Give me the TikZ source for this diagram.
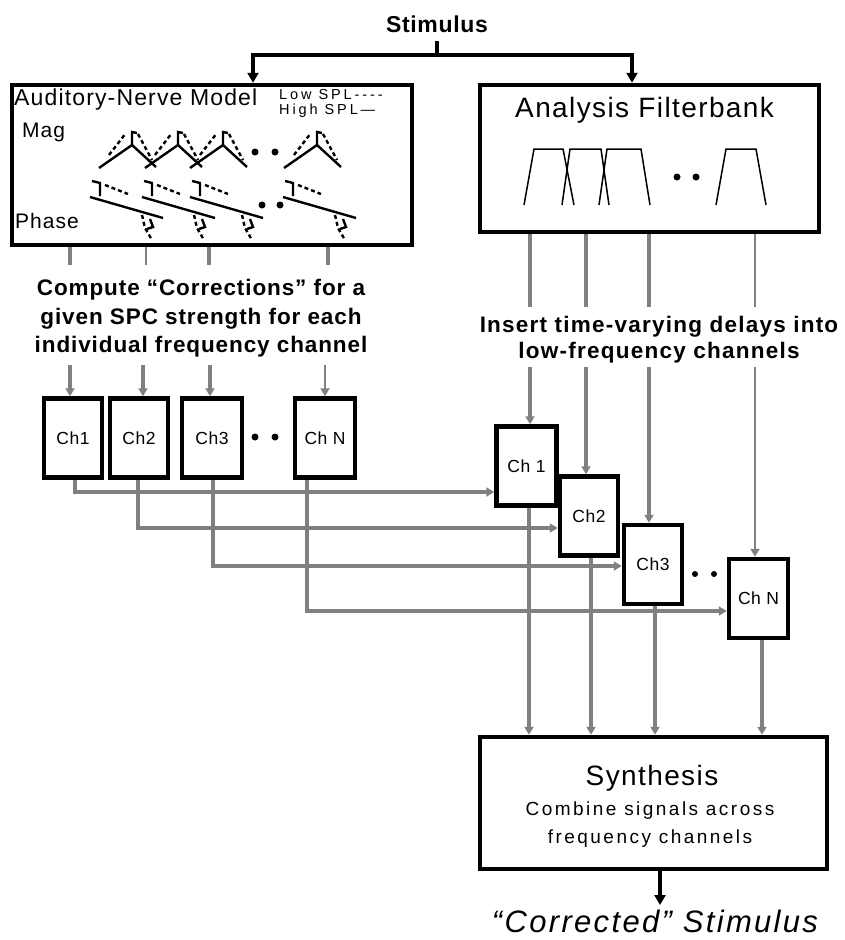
\documentclass[tikz,border=0pt]{standalone}
\usepackage{fontspec}
\setmainfont{Liberation Sans}
\usetikzlibrary{arrows.meta,calc}
\definecolor{gcol}{RGB}{128,128,128}
\begin{document}
\begin{tikzpicture}[x=1pt,y=-1pt,
  box/.style={draw=black, line width=4.5pt, fill=white, inner sep=0pt, rectangle},
  chbox/.style={box, minimum width=58pt, minimum height=79pt,
    font=\fontsize{17.5}{20}\selectfont\addfontfeatures{LetterSpace=3}},
  gl/.style={draw=gcol, line width=4pt},
  glthin/.style={draw=gcol, line width=2.5pt},
  gtip/.style={-{Triangle[length=8pt,width=9pt]}},
  blk/.style={draw=black, line width=3.5pt},
  btip/.style={-{Triangle[length=10pt,width=11pt]}},
  solidc/.style={draw=black, line width=2.4pt},
  dashc/.style={draw=black, line width=2.4pt, dash pattern=on 4pt off 3pt},
  trap/.style={draw=black, line width=1.5pt},
  txt/.style={inner sep=0pt, anchor=base},
  boldA/.style={txt, font=\fontsize{22.5}{26}\selectfont\bfseries\addfontfeatures{LetterSpace=4}},
  boldB/.style={txt, font=\fontsize{22.5}{26}\selectfont\bfseries\addfontfeatures{LetterSpace=5.5}},
  spl/.style={txt, anchor=base west, font=\fontsize{14.5}{16}\selectfont\addfontfeatures{LetterSpace=20}},
]
\useasboundingbox (0,0) rectangle (845,940);

% ---------- main boxes ----------
\node[box, minimum width=400pt, minimum height=160pt] (an) at (212,165) {};
\node[box, minimum width=339pt, minimum height=147pt] (fb) at (649.5,158.5) {};
\node[box, minimum width=347pt, minimum height=132pt] (synth) at (653.5,803) {};

% ---------- stimulus ----------
\node[txt, font=\fontsize{23}{26}\selectfont\bfseries\addfontfeatures{LetterSpace=3}] (stim) at (437,32) {Stimulus};
\coordinate (sj) at (437,55);
\draw[blk] (stim.south |- 0,41) -- (sj);
\draw[blk, btip] (sj) -| (an.north -| 253,0);
\draw[blk, btip] (sj) -| (fb.north -| 632,0);

% ---------- auditory-nerve model contents ----------
\node[txt, anchor=base west, font=\fontsize{23}{26}\selectfont\addfontfeatures{LetterSpace=5}] (antitle) at (14,105) {Auditory-Nerve Model};
\node[spl] (lowspl) at (279,99) {Low SPL-{}-{}-{}-};
\node[spl] (highspl) at (279,114) {High SPL—};
\node[txt, anchor=base west, font=\fontsize{21}{24}\selectfont\addfontfeatures{LetterSpace=5}] (mag) at (22,137) {Mag};
\node[txt, anchor=base west, font=\fontsize{21}{24}\selectfont\addfontfeatures{LetterSpace=5}] (phase) at (15,228) {Phase};

\foreach \cx in {132,178,223,317}{
  \draw[solidc] (\cx-33,168) -- (\cx,145) -- (\cx+24,167);
  \draw[solidc] (\cx,145) -- (\cx,132) -- (\cx+5,133);
  \draw[dashc] (\cx-23,155) -- (\cx-6,133);
  \draw[dashc] (\cx+6,134) -- (\cx+20,160);
}
\foreach \px in {90,142,190,283}{
  \draw[solidc] (\px+2,181) -- (\px+10,183) -- (\px+10,196);
  \draw[solidc] (\px,197) -- (\px+73,218);
  \draw[dashc] (\px+15,185) -- (\px+38,194);
  \draw[dashc] (\px+52,215) -- (\px+55,228) -- (\px+62,240);
  \draw[solidc] (\px+60,219) -- (\px+63,227) -- (\px+57,229);
}
\fill (255,152) circle (3.5pt);
\fill (275,152) circle (3.5pt);
\fill (262,205) circle (3.5pt);
\fill (280,205) circle (3.5pt);

% ---------- analysis filterbank contents ----------
\node[txt, anchor=base west, font=\fontsize{28}{32}\selectfont\addfontfeatures{LetterSpace=5}] (fbtitle) at (515,117) {Analysis Filterbank};
\draw[trap] (524,205) -- (534,149) -- (563,149) -- (574,205);
\draw[trap] (562,205) -- (570,149) -- (601,149) -- (609,205);
\draw[trap] (599,205) -- (607,149) -- (641,149) -- (650,205);
\draw[trap] (716,205) -- (726,149) -- (756,149) -- (766,205);
\fill (677,177) circle (3.5pt);
\fill (696,177) circle (3.5pt);

% ---------- left channel boxes ----------
\node[chbox] (lch1) at (73,438) {Ch1};
\node[chbox] (lch2) at (139,438) {Ch2};
\node[chbox, minimum width=60pt] (lch3) at (212,438) {Ch3};
\node[chbox, minimum width=60pt] (lchN) at (325,438) {Ch N};
\fill (255,437) circle (3.5pt);
\fill (275,437) circle (3.5pt);

% ---------- right channel boxes ----------
\node[chbox, minimum width=60pt] (rch1) at (526.5,466) {Ch 1};
\node[chbox] (rch2) at (589,516) {Ch2};
\node[chbox] (rch3) at (653,564.5) {Ch3};
\node[chbox, minimum width=59pt] (rchN) at (758.5,598.5) {Ch N};
\fill (695,574) circle (3pt);
\fill (714,574) circle (3pt);

% ---------- left: AN model -> corrections -> channels ----------
\coordinate (a1) at (70,265);
\coordinate (a2) at (146,265);
\coordinate (a3) at (209,265);
\coordinate (a4) at (328,265);
\draw[gl] (an.south -| a1) -- (a1);
\draw[glthin] (an.south -| a2) -- (a2);
\draw[gl] (an.south -| a3) -- (a3);
\draw[gl] (an.south -| a4) -- (a4);

\node[boldA] (comp1) at (201,295) {Compute “Corrections” for a};
\node[boldA] (comp2) at (201,324) {given SPC strength for each};
\node[boldA] (comp3) at (201,352) {individual frequency channel};

\coordinate (b1) at (70,365);
\coordinate (b2) at (143,365);
\coordinate (b3) at (210,365);
\coordinate (b4) at (325,365);
\draw[gl, gtip] (b1) -- (lch1.north -| b1);
\draw[gl, gtip] (b2) -- (lch2.north -| b2);
\draw[gl, gtip] (b3) -- (lch3.north -| b3);
\draw[glthin, gtip] (b4) -- (lchN.north -| b4);

% ---------- right: filterbank -> delay channels ----------
\draw[gl, gtip] (fb.south -| 530,0) -- (rch1.north -| 530,0);
\draw[gl, gtip] (fb.south -| 586,0) -- (rch2.north -| 586,0);
\draw[gl, gtip] (fb.south -| 649,0) -- (rch3.north -| 649,0);
\draw[glthin, gtip] (fb.south -| 755,0) -- (rchN.north -| 755,0);

\node[boldB, fill=white, inner sep=9pt] (ins1) at (659,332) {Insert time-varying delays into};
\node[boldB, fill=white, inner sep=4pt] (ins2) at (659,358) {low-frequency channels};

% ---------- corrections -> delay channels ----------
\draw[gl, gtip] (lch1.south -| 75,0) |- (rch1.west |- 0,492);
\draw[gl, gtip] (lch2.south -| 138,0) |- (rch2.west |- 0,528);
\draw[gl, gtip] (lch3.south -| 213,0) |- (rch3.west |- 0,566);
\draw[gl, gtip] (lchN.south -| 307,0) |- (rchN.west |- 0,611);

% ---------- delay channels -> synthesis ----------
\draw[gl, gtip] (rch1.south -| 529,0) -- (synth.north -| 529,0);
\draw[gl, gtip] (rch2.south -| 591,0) -- (synth.north -| 591,0);
\draw[gl, gtip] (rch3.south -| 655,0) -- (synth.north -| 655,0);
\draw[gl, gtip] (rchN.south -| 762,0) -- (synth.north -| 762,0);

% ---------- synthesis text ----------
\node[txt, font=\fontsize{28}{32}\selectfont\addfontfeatures{LetterSpace=5}] (syn1) at (652,785) {Synthesis};
\node[txt, font=\fontsize{19}{22}\selectfont\addfontfeatures{LetterSpace=13}] (syn2) at (650,815) {Combine signals across};
\node[txt, font=\fontsize{19}{22}\selectfont\addfontfeatures{LetterSpace=13}] (syn3) at (650,843) {frequency channels};

% ---------- output ----------
\coordinate (outend) at (660,905);
\draw[blk, btip] (synth.south -| outend) -- (outend);
\node[txt, font=\fontsize{31}{34}\selectfont\itshape\addfontfeatures{LetterSpace=7.5}] (corr) at (655,932) {“Corrected” Stimulus};
\end{tikzpicture}
\end{document}
